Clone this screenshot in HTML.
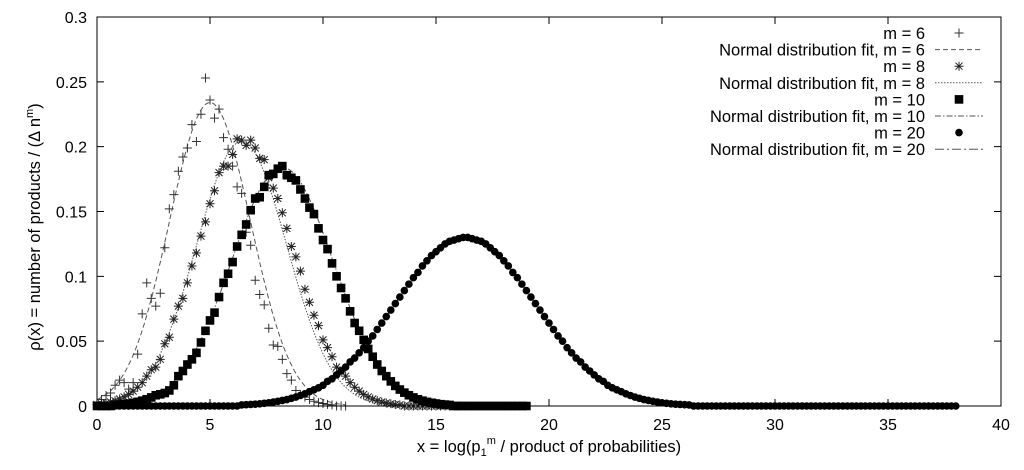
<!DOCTYPE html>
<html><head><meta charset="utf-8"><style>
html,body{margin:0;padding:0;background:#fff;}
svg{display:block;font-family:"Liberation Sans",sans-serif;}
</style></head><body>
<svg id="chart" width="1024" height="470" viewBox="0 0 1024 470" xmlns="http://www.w3.org/2000/svg">
<rect width="1024" height="470" fill="#fff"/>
<g id="plot"></g>
<g id="axes"></g>
<g id="legend"></g>
<text x="549" y="452" font-size="16.5" text-anchor="middle">x = log(p<tspan font-size="11" dy="4">1</tspan><tspan font-size="11" dy="-12">m</tspan><tspan dy="8"> / product of probabilities)</tspan></text>
<text transform="translate(40,227) rotate(-90)" font-size="16.5" text-anchor="middle">ρ(x) = number of products / (Δ n<tspan font-size="11" dy="-7">m</tspan><tspan dy="7">)</tspan></text>
</svg>
<script>
const xStep = 0.2;
const xTicks = [0,5,10,15,20,25,30,35,40];
const yTicks = [0,0.05,0.1,0.15,0.2,0.25,0.3];
const yTickLabels = ["0","0.05","0.1","0.15","0.2","0.25","0.3"];
const m6 = [.003,.005,.008,.010,.016,.020,.018,.013,.018,.040,.071,.095,.083,.077,.087,.122,.152,.163,.181,.192,.199,.217,.204,.225,.253,.236,.222,.229,.207,.198,.185,.169,.164,.134,.124,.097,.086,.078,.060,.047,.046,.036,.025,.020,.012,.009,.0068,.005,.0037,.0026,.0019,.0013,.0009,0,0,0];
const m8 = [.0012,.0017,.0023,.0031,.0041,.0054,.0070,.009,.0115,.0145,.018,.023,.028,.030,.036,.048,.053,.067,.077,.083,.095,.108,.118,.131,.142,.156,.166,.180,.185,.185,.194,.206,.205,.201,.205,.199,.191,.190,.176,.168,.160,.149,.137,.123,.115,.104,.090,.080,.070,.062,.051,.045,.038,.030,.027,.023,.018,.0145,.0115,.009,.0070,.0054,.0041,.0031,.0023,.0017,.0012,.0009,0,0,0,0,0,0,0,0,0,0,0,0,0];
const m10 = [0,0,0,0,.0008,.0011,.0014,.0019,.0025,.0032,.0041,.0052,.0066,.0083,.0090,.010,.012,.016,.023,.027,.032,.036,.041,.049,.058,.066,.072,.084,.095,.102,.111,.123,.132,.140,.151,.160,.161,.169,.178,.179,.183,.185,.178,.176,.174,.167,.160,.153,.148,.137,.128,.121,.110,.100,.091,.083,.073,.064,.058,.051,.044,.038,.032,.027,.023,.019,.0155,.0127,.0103,.0083,.0066,.0052,.0041,.0032,.0025,.0019,.0014,.0011,.0008,0,0,0,0,0,0,0,0,0,0,0,0,0,0,0,0,0];
const m20 = [0,0,0,0,0,0,0,0,0,0,0,0,0,0,0,0,0,0,0,0,0,0,0,0,0,0,0,0,0,0,0,0,
.0008,.0010,.0012,.0014,.0017,.0021,.0025,.0030,.0036,.0043,.0050,.0059,.0069,.0081,.0094,.011,.0125,.014,.016,.019,.021,.024,.027,.030,.034,.037,.041,.045,.050,.054,.059,.064,.069,.074,.079,.084,.089,.094,.099,.103,.108,.112,.116,.119,.122,.125,.127,.128,.129,.130,.130,
.129,.128,.127,.125,.122,.119,.116,.112,.108,.103,.099,.094,.089,.084,.079,.074,.069,.064,.059,.054,.050,.045,.041,.037,.034,.030,.027,.024,.021,.019,.016,.014,.0125,.011,.0094,.0081,.0069,.0059,.0050,.0043,.0036,.0030,.0025,.0021,.0017,.0014,.0012,.0010,.0008,
0,0,0,0,0,0,0,0,0,0,0,0,0,0,0,0,0,0,0,0,0,0,0,0,0,0,0,0,0,0,0,0,0,0,0,0,0,0,0,0,0,0,0,0,0,0,0,0,0,0,0,0,0,0,0,0,0,0,0];
const fitAmp = [0.234, 0.204, 0.184, 0.130];
const fitMean = [5.0, 6.4, 8.2, 16.3];
const fitSigma = [1.8, 2.0, 2.25, 3.1];
const fitEnd = [11, 16, 19, 38];
const legendLabels = ["m = 6","Normal distribution fit, m = 6","m = 8","Normal distribution fit, m = 8","m = 10","Normal distribution fit, m = 10","m = 20","Normal distribution fit, m = 20"];

const X0=97, X1=1001, Y0=406, Y1=17;
const sx = v => X0 + (v/40)*(X1-X0);
const sy = v => Y0 - (v/0.3)*(Y0-Y1);
const NS="http://www.w3.org/2000/svg";
function mk(tag, attrs, parent){const e=document.createElementNS(NS,tag);for(const k in attrs)e.setAttribute(k,attrs[k]);parent.appendChild(e);return e;}
const plot=document.getElementById('plot'), axes=document.getElementById('axes'), legend=document.getElementById('legend');

function marker(type, cx, cy, parent, nm){
  let g;
  if(type==='plus'){g=mk('path',{d:`M${cx-4.5} ${cy}H${cx+4.5}M${cx} ${cy-4.5}V${cy+4.5}`,stroke:'#333','stroke-width':1,fill:'none'},parent);}
  else if(type==='star'){g=mk('path',{d:`M${cx-4.5} ${cy}H${cx+4.5}M${cx} ${cy-4.5}V${cy+4.5}M${cx-3.5} ${cy-3.5}L${cx+3.5} ${cy+3.5}M${cx-3.5} ${cy+3.5}L${cx+3.5} ${cy-3.5}`,stroke:'#222','stroke-width':1,fill:'none'},parent);}
  else if(type==='square'){g=mk('rect',{x:cx-4.3,y:cy-4.3,width:8.6,height:8.6,fill:'#000'},parent);}
  else {g=mk('circle',{cx:cx,cy:cy,r:3.8,fill:'#000'},parent);}
  
  
}
const dashes=['5,3','1.5,1.5','6,2,1.5,2','9,3,2,3'];
function fitPath(i){
  let d='';
  for(let x=0;x<=fitEnd[i]+1e-9;x+=0.05){
    const y=fitAmp[i]*Math.exp(-((x-fitMean[i])**2)/(2*fitSigma[i]**2));
    d+=(d?'L':'M')+sx(x).toFixed(1)+' '+sy(y).toFixed(1);
  }
  return d;
}
const series=[[m6,'plus'],[m8,'star'],[m10,'square'],[m20,'circle']];
series.forEach((s,i)=>{
  const p=mk('path',{d:fitPath(i),fill:'none',stroke:'#555','stroke-width':1,'stroke-dasharray':dashes[i]},plot);
  
  
  s[0].forEach((v,j)=>marker(s[1], sx(j*xStep), sy(v), plot, 'point-'+s[1]));
});

const fr=mk('rect',{x:X0,y:Y1,width:X1-X0,height:Y0-Y1,fill:'none',stroke:'#000','stroke-width':1},axes);


xTicks.forEach(t=>{
  const x=sx(t);
  mk('path',{d:`M${x} ${Y0}V${Y0-7}M${x} ${Y1}V${Y1+7}`,stroke:'#000','stroke-width':1},axes);
  const tx=mk('text',{x:x,y:430,'font-size':16,'text-anchor':'middle'},axes);
  tx.textContent=t;
  
  
});
yTicks.forEach((t,i)=>{
  const y=sy(t);
  mk('path',{d:`M${X0} ${y}H${X0+7}M${X1} ${y}H${X1-7}`,stroke:'#000','stroke-width':1},axes);
  const tx=mk('text',{x:87,y:y+6,'font-size':16,'text-anchor':'end'},axes);
  tx.textContent=yTickLabels[i];
  
  
});
const legTypes=['plus','fit','star','fit','square','fit','circle','fit'];
legendLabels.forEach((lab,i)=>{
  const y=33+i*16.6;
  const t=mk('text',{x:925,y:y+6,'font-size':16.5,'text-anchor':'end'},legend);
  t.textContent=lab;
  
  
  if(legTypes[i]==='fit'){
    const l=mk('path',{d:`M935 ${y}H983`,stroke:'#555','stroke-width':1,'stroke-dasharray':dashes[(i-1)/2]},legend);
    
    
  } else marker(legTypes[i],959,y,legend,'legend-marker');
});
</script>
</body></html>
